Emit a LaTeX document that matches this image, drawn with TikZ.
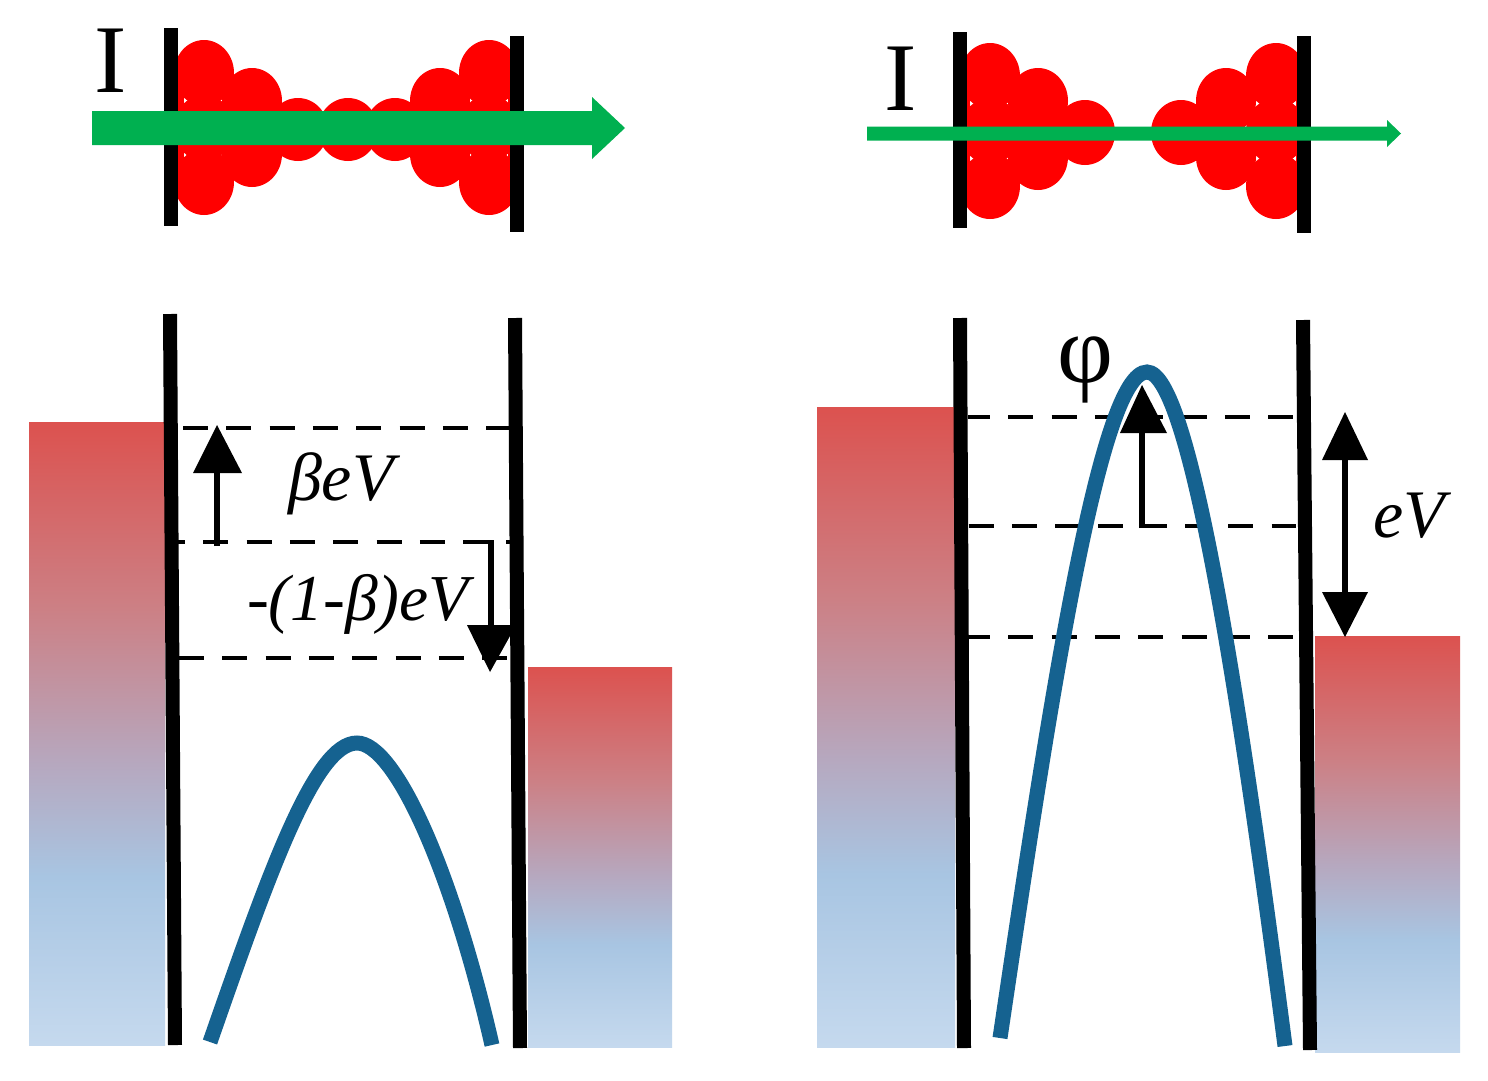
\documentclass[tikz,border=0pt]{standalone}
\usepackage{fontspec}
\setmainfont{Liberation Serif}
\definecolor{gtop}{HTML}{DC524F}
\definecolor{gb}{HTML}{CC8085}
\definecolor{gc}{HTML}{B6A8BF}
\definecolor{gd}{HTML}{A8C5E2}
\definecolor{ge}{HTML}{C5D9EE}
\definecolor{barblue}{HTML}{156290}
\definecolor{cgreen}{HTML}{00B050}
\pgfdeclareverticalshading{bandgrad}{100bp}{color(0bp)=(ge); color(25bp)=(ge); color(38.5bp)=(gd); color(47.5bp)=(gc); color(60bp)=(gb); color(75bp)=(gtop); color(100bp)=(gtop)}
\tikzset{
 wall/.style={line width=14pt,black},
 level/.style={line width=4pt,black,dash pattern=on 25pt off 18.3pt},
 stem/.style={line width=6pt,black},
 head/.style={fill=black,draw=none},
 barrier/.style={line width=15pt,barblue},
 band/.style={shading=bandgrad,draw=none},
 blob/.style={fill=red,draw=none},
 txt/.style={inner sep=0pt,outer sep=0pt,anchor=base west},
 flow/.style={fill=cgreen,draw=none}
}
\newcommand{\blobs}[2]{\foreach \px/\py in {#2} \fill[blob] (\px,\py) ellipse [x radius=30pt,y radius=#1];}
\begin{document}
\begin{tikzpicture}[x=1pt,y=-1pt]
\useasboundingbox (0,0) rectangle (1488,1080);
\fill[white] (0,0) rectangle (1488,1080);
% bands
\path[band] (29,422) rectangle (165,1045);
\path[band] (528,667) rectangle (672,1047);
\path[band] (817,407) rectangle (955,1047);
\path[band] (1315,636) rectangle (1460,1052);
% atoms
\begin{scope}
\clip (171,0) rectangle (517,260);
\blobs{33pt}{154/101,154/155,204/73,204/128,204/182,252/101,252/154,489/73,489/128,489/182,440/101,440/154,538/101,538/155}
\blobs{31.5pt}{298/129.5,348/129.5,395/129.5}
\end{scope}
\begin{scope}
\clip (960,0) rectangle (1304,260);
\blobs{33pt}{940/104,940/159,990/76,990/131,990/186,1038/101,1038/157,1226/101,1226/157,1276/76,1276/131,1276/186,1326/104,1326/159}
\blobs{32.5pt}{1085/132.5,1181/132.5}
\end{scope}
% walls
\draw[wall] (171,28) -- (171,226);
\draw[wall] (517,36) -- (517,232);
\draw[wall] (960,32) -- (960,228);
\draw[wall] (1304,36) -- (1304,233);
\draw[wall] (170,314) -- (175,1045);
\draw[wall] (515,318) -- (520,1048);
\draw[wall] (960,318) -- (964,1048);
\draw[wall] (1303,320) -- (1310,1050);
% levels
\draw[level] (183,428) -- (510,428);
\draw[level,dash phase=18pt] (178,542) -- (510,542);
\draw[level] (179,658) -- (510,658);
\draw[level,dash phase=3pt] (968,417) -- (1294,417);
\draw[level] (968.5,526) -- (1296,526);
\draw[level,dash phase=3pt] (968,637) -- (1294,637);
% arrows
\draw[stem] (217,546) -- (217,470);
\fill[head] (217,425) -- (242,473) -- (193,473) -- cycle;
\draw[stem] (491,540) -- (491,630);
\fill[head] (490,672) -- (467,625) -- (510,625) -- (510,636) -- cycle;
\draw[stem] (1142,528) -- (1142,430);
\fill[head] (1142,385) -- (1167,433) -- (1120,433) -- cycle;
\draw[stem] (1345,455) -- (1345,597);
\fill[head] (1345,412) -- (1368,460) -- (1322,460) -- cycle;
\fill[head] (1345,637) -- (1368,592) -- (1322,592) -- cycle;
% barriers
\draw[barrier] (210,1042) .. controls (270,870) and (315,743) .. (357,743) .. controls (395,743) and (452,870) .. (492,1045);
\draw[barrier] (1000,1038) .. controls (1050,700) and (1100,372) .. (1147,372) .. controls (1190,372) and (1240,700) .. (1285,1046);
% current arrows
\fill[flow] (92,111) -- (592,111) -- (592,97) -- (625,128) -- (592,159) -- (592,145) -- (92,145) -- cycle;
\fill[flow] (867,126.5) -- (1387,126.5) -- (1387,120) -- (1401,133.5) -- (1387,147) -- (1387,140.5) -- (867,140.5) -- cycle;
% labels
\node[txt,anchor=base] (iL) at (111,92) {\fontsize{97}{97}\selectfont I};
\node[txt,anchor=base] (iR) at (901,110) {\fontsize{97}{97}\selectfont I};
\node[txt] (beta) at (288,500) {\fontsize{68}{68}\selectfont\itshape βeV};
\node[txt] (mbeta) at (247,620) {\fontsize{65.5}{66}\selectfont\itshape -(1-β)eV};
\node[txt] (ev) at (1373,537) {\fontsize{68}{68}\selectfont\itshape eV};
\node[txt,anchor=base] (phi) at (1085,382) {\fontsize{97}{97}\selectfont φ};
\end{tikzpicture}
\end{document}
